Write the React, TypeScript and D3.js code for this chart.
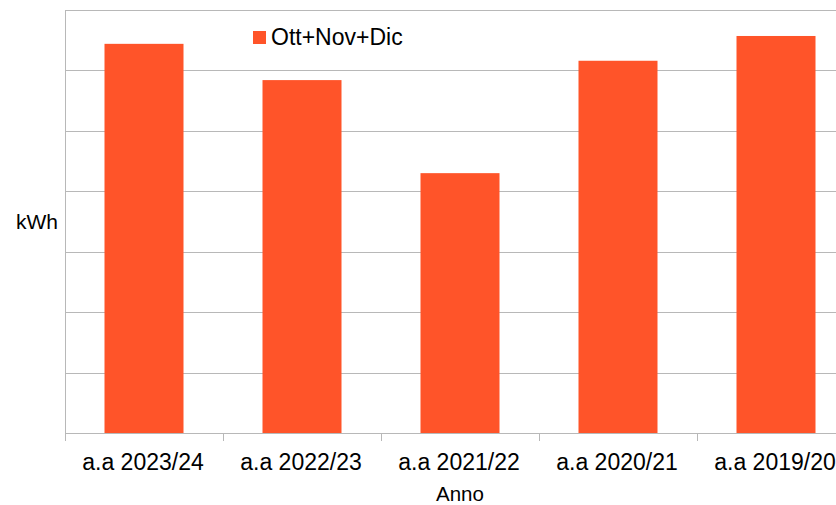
import { useRef, useEffect } from "react";
import * as d3 from "d3";

const categories = [
  "a.a 2023/24",
  "a.a 2022/23",
  "a.a 2021/22",
  "a.a 2020/21",
  "a.a 2019/20",
];
const values = [6440, 5840, 4300, 6160, 6570];
const seriesName = "Ott+Nov+Dic";
const yTicks = [0, 1000, 2000, 3000, 4000, 5000, 6000, 7000];

const BAR = "#ff5429";
const GRID = "#b8b8b8";
const FONT = "'Liberation Sans', Arial, sans-serif";

export default function App() {
  const svgRef = useRef<SVGSVGElement>(null);

  useEffect(() => {
    if (!svgRef.current) return;
    const W = 836;
    const H = 505;
    const left = 65;
    const top = 10;
    const bottom = 433;
    const step = 158;

    const svg = d3.select(svgRef.current);
    svg.selectAll("*").remove();
    svg.attr("width", W).attr("height", H);

    const x = d3
      .scaleBand()
      .domain(categories)
      .range([left, left + step * categories.length])
      .paddingInner(0.5)
      .paddingOuter(0.25);

    const y = d3.scaleLinear().domain([0, 7000]).range([bottom, top]);

    // gridlines
    svg
      .append("g")
      .selectAll("line")
      .data(yTicks)
      .enter()
      .append("line")
      .attr("x1", left)
      .attr("x2", W)
      .attr("y1", (d) => Math.round(y(d)) + 0.5)
      .attr("y2", (d) => Math.round(y(d)) + 0.5)
      .attr("stroke", GRID)
      .attr("stroke-width", 1);

    // left axis line
    svg
      .append("line")
      .attr("x1", left + 0.5)
      .attr("x2", left + 0.5)
      .attr("y1", top)
      .attr("y2", bottom + 8)
      .attr("stroke", GRID);

    // bars
    svg
      .append("g")
      .selectAll("rect")
      .data(values)
      .enter()
      .append("rect")
      .attr("x", (d, i) => x(categories[i])!)
      .attr("y", (d) => y(d))
      .attr("width", x.bandwidth())
      .attr("height", (d) => bottom - y(d))
      .attr("fill", BAR);

    // x ticks at band boundaries
    const bounds = d3.range(categories.length + 1).map((i) => left + i * step);
    svg
      .append("g")
      .selectAll("line")
      .data(bounds)
      .enter()
      .append("line")
      .attr("x1", (d) => d + 0.5)
      .attr("x2", (d) => d + 0.5)
      .attr("y1", bottom)
      .attr("y2", bottom + 8)
      .attr("stroke", GRID);

    svg
      .append("g")
      .selectAll("text")
      .data(categories)
      .enter()
      .append("text")
      .attr("x", (d) => x(d)! + x.bandwidth() / 2 - 1)
      .attr("y", 470)
      .attr("text-anchor", "middle")
      .style("font-family", FONT)
      .style("font-size", "23px")
      .style("fill", "#000")
      .text((d) => d);

    // axis titles
    svg
      .append("text")
      .attr("x", 16)
      .attr("y", 229)
      .style("font-family", FONT)
      .style("font-size", "21px")
      .text("kWh");

    svg
      .append("text")
      .attr("x", 460)
      .attr("y", 501)
      .attr("text-anchor", "middle")
      .style("font-family", FONT)
      .style("font-size", "20.5px")
      .text("Anno");

    // legend
    svg
      .append("rect")
      .attr("x", 253)
      .attr("y", 31)
      .attr("width", 13)
      .attr("height", 13)
      .attr("fill", BAR);
    svg
      .append("text")
      .attr("x", 271)
      .attr("y", 45)
      .style("font-family", FONT)
      .style("font-size", "23px")
      .text(seriesName);
  }, []);

  return (
    <svg
      ref={svgRef}
      style={{ position: "absolute", left: 0, top: 0, background: "#fff" }}
    />
  );
}
